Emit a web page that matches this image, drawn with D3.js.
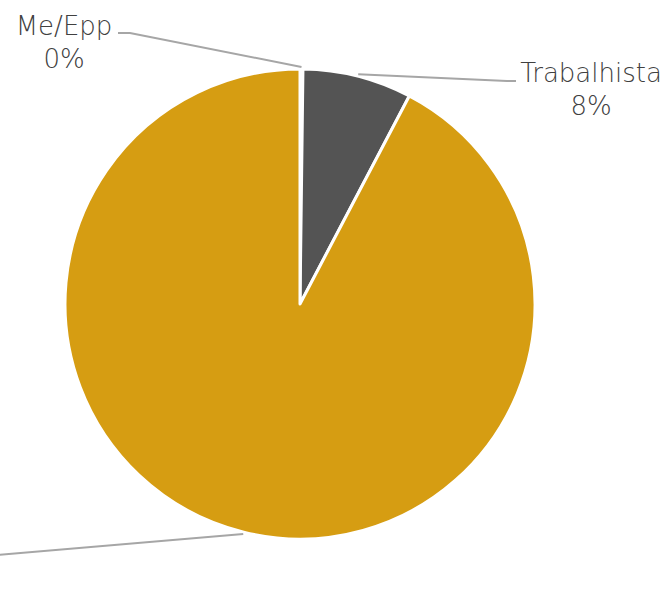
<!DOCTYPE html>
<html>
<head>
<meta charset="utf-8">
<script src="https://cdn.jsdelivr.net/npm/d3@7"></script>
<style>
  body { margin: 0; background: #fff; }
  svg { display: block; }
</style>
</head>
<body>
<div id="chart"></div>
<script>
// data (third slice's label sits outside the frame)
const categories = ['Me/Epp', 'Trabalhista', 'Cível'];
const values = [0.2, 7.5, 92.3];
const percentLabels = ['0%', '8%', '92%'];
const colors = ['#7f7f7f', '#545454', '#d69d12'];

const width = 664, height = 597;
const cx = 300, cy = 304, radius = 235;

// where each label block is centered (first line baseline), and where its leader line ends
const labelPos = [
    { x: 64, y: 35, lineEnd: [118, 33], elbow: [130, 33] },
    { x: 591, y: 82, lineEnd: [516, 81], elbow: [507, 81] },
    { x: null, y: null, lineEnd: [-2, 555], elbow: [-2, 555] }
];

const svg = d3.select('#chart')
    .append('svg')
    .attr('width', width)
    .attr('height', height);

const pie = d3.pie().sort(null).value(d => d.value);
const arcs = pie(categories.map((c, i) => ({ name: c, value: values[i], i: i })));

const arc = d3.arc().innerRadius(0).outerRadius(radius);
const outer = d3.arc().innerRadius(radius + 2).outerRadius(radius + 2);

const g = svg.append('g').attr('transform', `translate(${cx},${cy})`);

g.selectAll('path.slice')
    .data(arcs)
    .enter().append('path')
    .attr('class', 'slice')
    .attr('d', arc)
    .attr('fill', d => colors[d.data.i])
    .attr('stroke', '#fff')
    .attr('stroke-width', 3)
    .attr('stroke-linejoin', 'round');

// leader lines
g.selectAll('polyline.leader')
    .data(arcs)
    .enter().append('polyline')
    .attr('class', 'leader')
    .attr('fill', 'none')
    .attr('stroke', '#a6a6a6')
    .attr('stroke-width', 2)
    .attr('points', d => {
        const p = outer.centroid(d);
        const lp = labelPos[d.data.i];
        const e = [lp.elbow[0] - cx, lp.elbow[1] - cy];
        const f = [lp.lineEnd[0] - cx, lp.lineEnd[1] - cy];
        return [p, e, f].map(q => q.join(',')).join(' ');
    });

// labels
arcs.forEach(d => {
    const lp = labelPos[d.data.i];
    if (lp.x === null) return;
    const t = svg.append('text')
        .attr('text-anchor', 'middle')
        .attr('font-family', '"DejaVu Sans", sans-serif')
        .attr('font-weight', 200)
        .attr('font-size', '26px')
        .attr('fill', '#404040');
    t.append('tspan').attr('x', lp.x).attr('y', lp.y).text(d.data.name);
    t.append('tspan').attr('x', lp.x).attr('y', lp.y + 33).text(percentLabels[d.data.i]);
});
</script>
</body>
</html>
